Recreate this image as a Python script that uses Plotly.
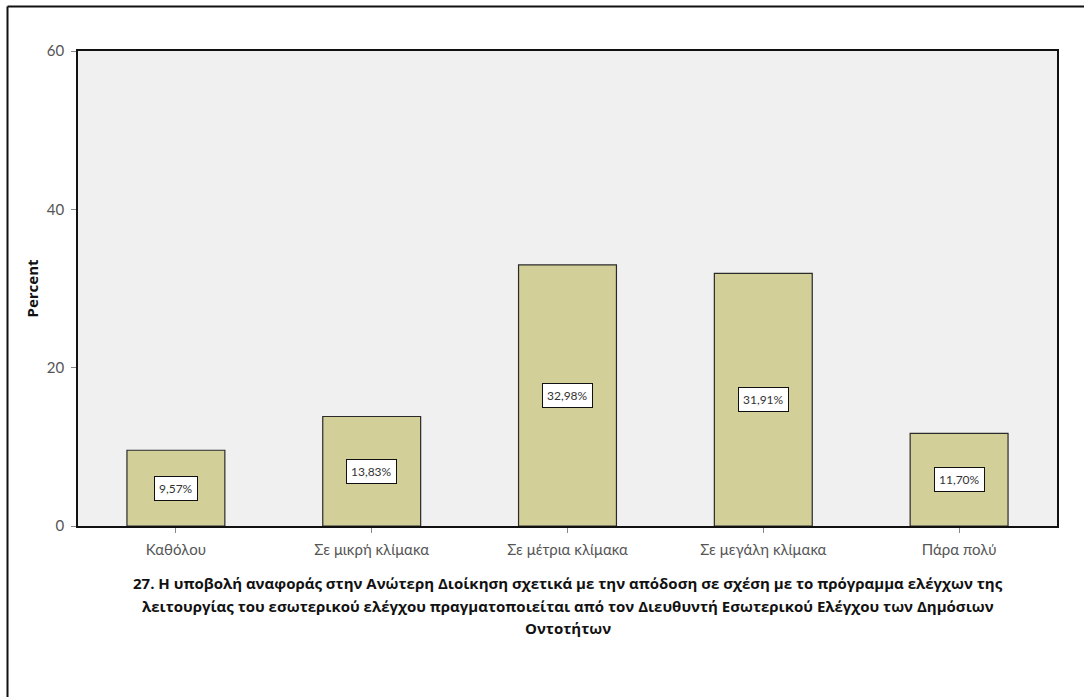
import plotly.graph_objects as go

categories = ["Καθόλου", "Σε μικρή κλίμακα", "Σε μέτρια κλίμακα", "Σε μεγάλη κλίμακα", "Πάρα πολύ"]
percent = [9.57, 13.83, 32.98, 31.91, 11.70]
y_ticks = [0, 20, 40, 60]
title_lines = [
    "27. Η υποβολή αναφοράς στην Ανώτερη Διοίκηση σχετικά με την απόδοση σε σχέση με το πρόγραμμα ελέγχων της",
    "λειτουργίας του εσωτερικού ελέγχου πραγματοποιείται από τον Διευθυντή Εσωτερικού Ελέγχου των Δημόσιων",
    "Οντοτήτων",
]

W, H = 1084, 697
L, R, T, B = 78, 27, 51, 171
pw, ph = W - L - R, H - T - B

fig = go.Figure()
fig.add_trace(go.Bar(
    x=categories, y=percent,
    marker=dict(color="#d3cf98", line=dict(color="#2a2a2a", width=1.2)),
    width=0.5, hoverinfo="skip",
))

# value labels in white boxes at mid-height of each bar
for c, v in zip(categories, percent):
    fig.add_annotation(
        x=c, y=v / 2, text=f"{v:.2f}%".replace(".", ","),
        showarrow=False, bgcolor="white", bordercolor="#111111", borderwidth=1,
        borderpad=4, font=dict(family="Lato", size=12, color="#333333"),
    )

# bold multi-line title under the axis, one annotation per line
line_centers = [583, 606, 628]
for txt, yc in zip(title_lines, line_centers):
    fig.add_annotation(
        xref="paper", yref="paper", x=0.5, y=-(yc - (H - B)) / ph,
        xanchor="center", yanchor="middle", showarrow=False,
        text=f"<b>{txt}</b>",
        font=dict(family="Open Sans", size=15, color="#111111"),
    )

# outer frame (left and top edges visible)
fig.add_shape(type="line", xref="paper", yref="paper",
              x0=(7.5 - L) / pw, x1=(W + 5 - L) / pw,
              y0=(H - B - 6.5) / ph, y1=(H - B - 6.5) / ph,
              line=dict(color="#111111", width=2))
fig.add_shape(type="line", xref="paper", yref="paper",
              x0=(7.5 - L) / pw, x1=(7.5 - L) / pw,
              y0=(H - B - 6.5) / ph, y1=-(B + 5) / ph,
              line=dict(color="#111111", width=2))

fig.update_layout(
    width=W, height=H,
    margin=dict(l=L, r=R, t=T, b=B),
    paper_bgcolor="white", plot_bgcolor="#f0f0f0",
    showlegend=False, bargap=0.5,
    font=dict(family="Lato", color="#555555"),
)
fig.update_xaxes(
    showline=True, linecolor="#111111", linewidth=1.5, mirror=True,
    ticks="outside", ticklen=5, tickcolor="#888888",
    tickfont=dict(family="Lato", size=15, color="#555555"),
    ticklabelstandoff=4, showgrid=False,
)
fig.update_yaxes(
    range=[0, 60], tickvals=y_ticks, showline=True, linecolor="#111111",
    linewidth=1.5, mirror=True, ticks="outside", ticklen=5, tickcolor="#888888",
    tickfont=dict(family="Lato", size=15, color="#555555"),
    ticklabelstandoff=4, showgrid=False, zeroline=False,
    title=dict(text="<b>Percent</b>", font=dict(family="Open Sans", size=15, color="#111111"), standoff=5),
)

fig.write_html("out.html")
